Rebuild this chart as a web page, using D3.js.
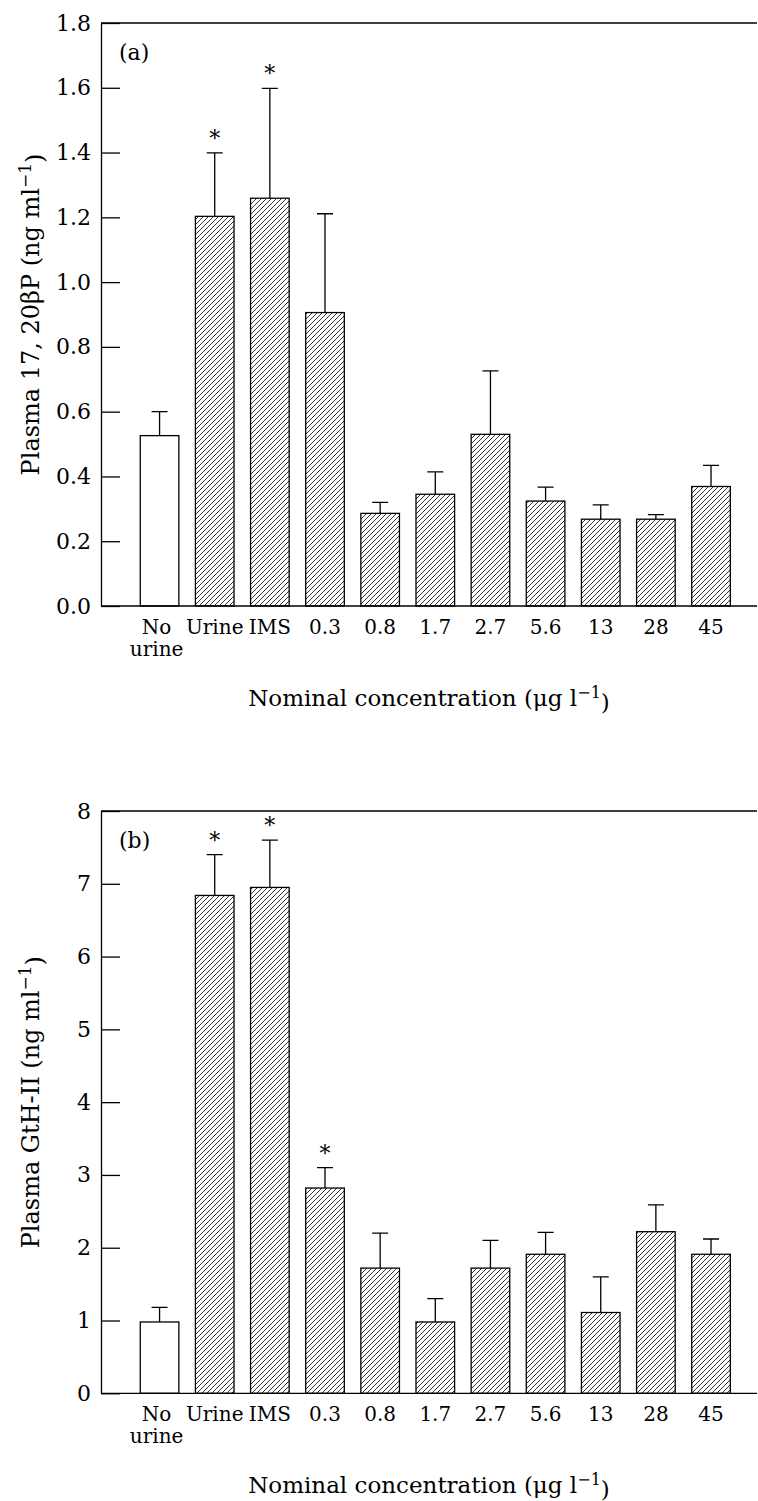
<!DOCTYPE html>
<html>
<head>
<meta charset="utf-8">
<script src="https://cdn.jsdelivr.net/npm/d3@7"></script>
<style>
    body { margin: 0; background: #fff; }
    svg { display: block; }
    text { font-family: "DejaVu Serif", "Liberation Serif", serif; fill: #000; }
</style>
</head>
<body>
<div id="chart"></div>
<script>
// categories on the x axis (a space breaks the label into two lines)
let categories = ["No urine", "Urine", "IMS", "0.3", "0.8", "1.7", "2.7", "5.6", "13", "28", "45"];
// which bars are drawn without hatching
let controlGroups = ["No urine"];

// panel (a): plasma 17,20βP, mean and SE
let steroidMean = [0.526, 1.203, 1.259, 0.906, 0.286, 0.345, 0.530, 0.324, 0.268, 0.268, 0.369];
let steroidSe = [0.074, 0.196, 0.339, 0.305, 0.034, 0.069, 0.196, 0.043, 0.044, 0.014, 0.065];
let steroidSig = ["Urine", "IMS"];
let steroidTicks = [0, 0.2, 0.4, 0.6, 0.8, 1.0, 1.2, 1.4, 1.6, 1.8];

// panel (b): plasma GtH-II, mean and SE
let gthMean = [0.98, 6.84, 6.95, 2.82, 1.72, 0.98, 1.72, 1.91, 1.11, 2.22, 1.91];
let gthSe = [0.20, 0.56, 0.65, 0.28, 0.48, 0.32, 0.38, 0.30, 0.49, 0.37, 0.21];
let gthSig = ["Urine", "IMS", "0.3"];
let gthTicks = [0, 1, 2, 3, 4, 5, 6, 7, 8];

let width = 758;
let height = 1501;

let svg = d3.select("#chart")
    .append("svg")
    .attr("width", width)
    .attr("height", height);

// diagonal hatching for the treated groups
svg.append("defs")
    .append("pattern")
    .attr("id", "hatch")
    .attr("patternUnits", "userSpaceOnUse")
    .attr("width", 5)
    .attr("height", 5)
    .append("path")
    .attr("d", "M0,5 L5,0 M-1,1 L1,-1 M4,6 L6,4")
    .attr("stroke", "#000")
    .attr("stroke-width", 0.8);

let axisLeftX = 101;
let axisRightX = 757;

// shared x scale
let xScale = d3.scaleBand()
    .domain(categories)
    .range([132, 738.6])
    .paddingInner(0.3)
    .paddingOuter(0.15);

let drawPanel = function (cfg) {
    let g = svg.append("g");

    let yScale = d3.scaleLinear()
        .domain([0, cfg.ticks[cfg.ticks.length - 1]])
        .range([cfg.bottom, cfg.top]);

    // left axis with inward ticks
    let yAxis = d3.axisLeft(yScale)
        .tickValues(cfg.ticks)
        .tickFormat(cfg.format)
        .tickSizeInner(-19)
        .tickSizeOuter(0)
        .tickPadding(10);

    let ya = g.append("g")
        .attr("transform", "translate(" + axisLeftX + ",0)")
        .call(yAxis);
    ya.selectAll("text")
        .style("font-size", "22px")
        .style("font-family", "DejaVu Serif");
    ya.selectAll("path, line").attr("stroke", "#000").attr("stroke-width", 1.3);

    // frame top line
    g.append("line")
        .attr("x1", axisLeftX).attr("x2", axisRightX)
        .attr("y1", yScale(cfg.ticks[cfg.ticks.length - 1]))
        .attr("y2", yScale(cfg.ticks[cfg.ticks.length - 1]))
        .attr("stroke", "#000").attr("stroke-width", 1.3);

    // bars
    g.selectAll(".bar")
        .data(cfg.mean)
        .enter()
        .append("rect")
        .attr("class", "bar")
        .attr("x", (d, i) => xScale(categories[i]))
        .attr("y", d => yScale(d))
        .attr("width", xScale.bandwidth())
        .attr("height", d => yScale(0) - yScale(d))
        .attr("fill", (d, i) => controlGroups.includes(categories[i]) ? "#fff" : "url(#hatch)")
        .attr("stroke", "#000")
        .attr("stroke-width", 1.3);

    // error bars: stem + cap
    let capHalf = 8;
    g.selectAll(".err")
        .data(cfg.mean)
        .enter()
        .append("path")
        .attr("class", "err")
        .attr("d", function (d, i) {
            let cx = xScale(categories[i]) + xScale.bandwidth() / 2;
            let yTop = yScale(d + cfg.se[i]);
            return "M" + cx + "," + yScale(d) + "V" + yTop +
                "M" + (cx - capHalf) + "," + yTop + "H" + (cx + capHalf);
        })
        .attr("fill", "none")
        .attr("stroke", "#000")
        .attr("stroke-width", 1.3);

    // significance stars
    g.selectAll(".star")
        .data(categories.filter(c => cfg.sig.includes(c)))
        .enter()
        .append("text")
        .attr("class", "star")
        .attr("x", c => xScale(c) + xScale.bandwidth() / 2)
        .attr("y", function (c) {
            let i = categories.indexOf(c);
            return yScale(cfg.mean[i] + cfg.se[i]) - 7;
        })
        .attr("text-anchor", "middle")
        .style("font-size", "22px")
        .text("*");

    // bottom axis, no tick marks
    let xAxis = d3.axisBottom(xScale)
        .tickSize(0)
        .tickPadding(14);
    let xa = g.append("g")
        .attr("transform", "translate(0," + cfg.bottom + ")")
        .call(xAxis);
    xa.select(".domain").remove();
    xa.selectAll("text")
        .style("font-size", "20px")
        .style("font-family", "DejaVu Serif")
        .each(function (d) {
            let parts = d.split(" ");
            if (parts.length > 1) {
                let t = d3.select(this).text(null);
                parts.forEach(function (p, k) {
                    t.append("tspan")
                        .attr("x", -3)
                        .attr("dy", k === 0 ? "0.71em" : "1.1em")
                        .text(p);
                });
            }
        });
    g.append("line")
        .attr("x1", axisLeftX).attr("x2", axisRightX)
        .attr("y1", cfg.bottom).attr("y2", cfg.bottom)
        .attr("stroke", "#000").attr("stroke-width", 1.3);

    // panel letter
    g.append("text")
        .attr("x", 119)
        .attr("y", cfg.top + 37)
        .style("font-size", "22px")
        .text(cfg.letter);

    // y title
    let yt = g.append("text")
        .attr("transform", "translate(39," + ((cfg.top + cfg.bottom) / 2) + ") rotate(-90)")
        .attr("text-anchor", "middle")
        .style("font-size", "24px");
    yt.append("tspan").text(cfg.yTitle + " (ng ml");
    yt.append("tspan").attr("dy", "-0.5em").style("font-size", "17px").text("\u22121");
    yt.append("tspan").attr("dy", "0.5em").text(")");

    // x title
    let xt = g.append("text")
        .attr("x", (axisLeftX + axisRightX) / 2)
        .attr("y", cfg.bottom + 100)
        .attr("text-anchor", "middle")
        .style("font-size", "23px");
    xt.append("tspan").text("Nominal concentration (\u03bcg l");
    xt.append("tspan").attr("dy", "-0.5em").style("font-size", "16px").text("\u22121");
    xt.append("tspan").attr("dy", "0.5em").text(")");
};

drawPanel({
    top: 23,
    bottom: 606,
    ticks: steroidTicks,
    format: d3.format(".1f"),
    mean: steroidMean,
    se: steroidSe,
    sig: steroidSig,
    letter: "(a)",
    yTitle: "Plasma 17, 20\u03b2P"
});

drawPanel({
    top: 811,
    bottom: 1393.3,
    ticks: gthTicks,
    format: d3.format("d"),
    mean: gthMean,
    se: gthSe,
    sig: gthSig,
    letter: "(b)",
    yTitle: "Plasma GtH-II"
});
</script>
</body>
</html>
